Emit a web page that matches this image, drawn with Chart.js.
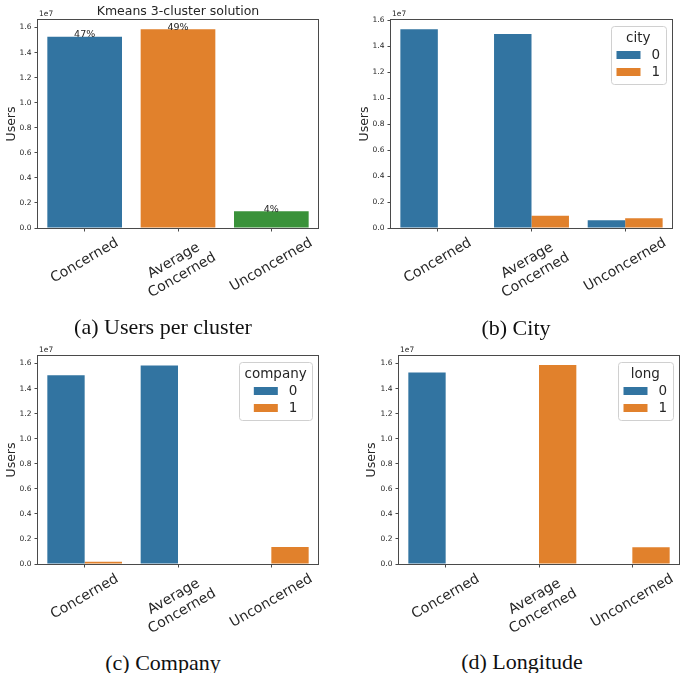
<!DOCTYPE html>
<html>
<head>
<meta charset="utf-8">
<script src="https://cdn.jsdelivr.net/npm/chart.js@4.4.0/dist/chart.umd.min.js"></script>
<style>
  body { margin: 0; background: #fff; }
  #wrap { position: relative; width: 685px; height: 673px; overflow: hidden; }
  #wrap canvas { position: absolute; }
  .cap { position: absolute; font-family: 'Liberation Serif', serif; font-size: 22px; color: #111;
         transform: translate(-50%, -50%); white-space: nowrap; }
</style>
</head>
<body>
<div id="wrap">
  <canvas id="pa" width="340" height="300" style="left:0;top:0"></canvas>
  <canvas id="pb" width="345" height="300" style="left:340px;top:0"></canvas>
  <canvas id="pc" width="340" height="300" style="left:0;top:335px"></canvas>
  <canvas id="pd" width="345" height="300" style="left:340px;top:335px"></canvas>
  <div class="cap" style="left:163px;top:327px">(a) Users per cluster</div>
  <div class="cap" style="left:516px;top:328px">(b) City</div>
  <div class="cap" style="left:163px;top:663px">(c) Company</div>
  <div class="cap" style="left:522px;top:662px">(d) Longitude</div>
</div>
<script>
// data (users, in units of 1)
const clusters = [['Concerned'], ['Average', 'Concerned'], ['Unconcerned']];
const usersPerCluster = [15270000, 15860000, 1330000];
const cityNo = [15280000, 14920000, 600000];
const cityYes = [0, 950000, 750000];
const companyNo = [15070000, 15850000, 0];
const companyYes = [180000, 0, 1360000];
const longNo = [15280000, 0, 0];
const longYes = [0, 15890000, 1330000];
const hueLabels = ['0', '1'];
const yTicks = [0, 2e6, 4e6, 6e6, 8e6, 10e6, 12e6, 14e6, 16e6];

const BLUE = '#3274a1', ORANGE = '#e1812c', GREEN = '#3a923a';
const TXT = '#262626', AXIS = '#4a4a4a';

Chart.defaults.font.family = "'DejaVu Sans', sans-serif";
Chart.defaults.color = TXT;
Chart.defaults.animation = false;

// draws the matplotlib-ish extras: spines, rotated x labels, ylabel, offset text, title, legend
const decor = {
  id: 'decor',
  afterDraw(chart, args, o) {
    const ctx = chart.ctx, a = chart.chartArea;
    const xs = chart.scales.x;
    ctx.save();

    ctx.strokeStyle = AXIS;
    ctx.lineWidth = 1;
    ctx.strokeRect(a.left - 0.5, a.top - 0.5, a.right - a.left + 1, a.bottom - a.top + 1);

    // x tick labels, rotated 30deg and centred under the tick
    const fs = 14, lh = fs * 1.2, th = Math.PI / 6;
    ctx.font = fs + "px 'DejaVu Sans'";
    ctx.fillStyle = TXT;
    ctx.textAlign = 'center';
    ctx.textBaseline = 'middle';
    chart.data.labels.forEach((lab, i) => {
      const lines = [].concat(lab);
      const w = Math.max(...lines.map(l => ctx.measureText(l).width));
      const h = (lines.length - 1) * lh + fs * 1.15;
      const bh = w * Math.sin(th) + h * Math.cos(th);
      const x = xs.getPixelForTick(i);
      const y = a.bottom + 7 + bh / 2;
      ctx.save();
      ctx.translate(x, y);
      ctx.rotate(-th);
      lines.forEach((l, j) => ctx.fillText(l, 0, (j - (lines.length - 1) / 2) * lh));
      ctx.restore();
    });

    // y axis label
    ctx.save();
    ctx.font = "12.5px 'DejaVu Sans'";
    ctx.translate(o.ylabelX, (a.top + a.bottom) / 2);
    ctx.rotate(-Math.PI / 2);
    ctx.fillText('Users', 0, 0);
    ctx.restore();

    // offset text
    ctx.font = "7.5px 'DejaVu Sans'";
    ctx.textAlign = 'left';
    ctx.textBaseline = 'alphabetic';
    ctx.fillText('1e7', a.left + 1, a.top - 4);

    if (o.title) {
      ctx.font = "12.5px 'DejaVu Sans'";
      ctx.textAlign = 'center';
      ctx.fillText(o.title, (a.left + a.right) / 2, a.top - 5);
    }

    // percentage of users on top of each bar
    if (o.pct) {
      const vals = chart.data.datasets[0].data;
      const total = vals.reduce((s, v) => s + v, 0);
      ctx.font = "9.5px 'DejaVu Sans'";
      ctx.textAlign = 'center';
      ctx.textBaseline = 'alphabetic';
      chart.getDatasetMeta(0).data.forEach((bar, i) => {
        ctx.fillText(Math.round(vals[i] / total * 100) + '%', bar.x, bar.y + 0.5);
      });
    }

    if (o.legendTitle) {
      const lf = 13.5;
      ctx.font = lf + "px 'DejaVu Sans'";
      const ds = chart.data.datasets;
      const tW = ctx.measureText(o.legendTitle).width;
      const lW = Math.max(...ds.map(d => ctx.measureText(d.label).width));
      const eW = 24 + 11 + lW;
      const bw = Math.max(tW, eW) + 11, bh = 58;
      const bx = Math.round(a.right - 6 - bw), by = a.top + 6;
      ctx.beginPath();
      ctx.roundRect(bx + 0.5, by + 0.5, Math.round(bw), bh, 3);
      ctx.fillStyle = 'rgba(255,255,255,0.8)';
      ctx.fill();
      ctx.strokeStyle = '#d0d0d0';
      ctx.stroke();
      ctx.fillStyle = TXT;
      ctx.textAlign = 'center';
      ctx.textBaseline = 'middle';
      ctx.fillText(o.legendTitle, bx + bw / 2, by + 12);
      const ex = bx + (bw - eW) / 2;
      ds.forEach((d, i) => {
        const cy = by + 29 + i * 17;
        ctx.fillStyle = d.backgroundColor;
        ctx.fillRect(ex, cy - 4, 24, 8);
        ctx.fillStyle = TXT;
        ctx.textAlign = 'left';
        ctx.fillText(d.label, ex + 35, cy + 0.5);
      });
    }
    ctx.restore();
  }
};

function makePanel(id, datasets, box, extra) {
  const cv = document.getElementById(id);
  return new Chart(cv, {
    type: 'bar',
    data: { labels: clusters, datasets: datasets },
    options: {
      responsive: false,
      devicePixelRatio: 1,
      layout: { padding: { left: 0, top: box.top, right: cv.width - box.right, bottom: 0 } },
      datasets: { bar: { barPercentage: 1, categoryPercentage: 0.8, borderWidth: 0 } },
      scales: {
        x: {
          ticks: { display: false },
          grid: { offset: false, drawOnChartArea: false, drawTicks: true, tickLength: 3.5, color: AXIS },
          border: { display: false },
          afterFit: s => { s.height = cv.height - box.bottom; }
        },
        y: {
          min: 0,
          max: box.max,
          ticks: {
            padding: 3,
            font: { size: 7.5 },
            color: TXT,
            callback: v => (v / 1e7).toFixed(1)
          },
          afterBuildTicks: s => { s.ticks = yTicks.map(v => ({ value: v })); },
          grid: { drawOnChartArea: false, drawTicks: true, tickLength: 3.5, color: AXIS },
          border: { display: false },
          afterFit: s => { s.width = box.left; }
        }
      },
      plugins: {
        legend: { display: false },
        tooltip: { enabled: false },
        decor: extra
      }
    },
    plugins: [decor]
  });
}

makePanel('pa',
  [{ label: 'Users', data: usersPerCluster, backgroundColor: [BLUE, ORANGE, GREEN] }],
  { left: 38, right: 318, top: 20, bottom: 228, max: 16600000 },
  { ylabelX: 12, title: 'Kmeans 3-cluster solution', pct: true });

makePanel('pb',
  [{ label: hueLabels[0], data: cityNo, backgroundColor: BLUE },
   { label: hueLabels[1], data: cityYes, backgroundColor: ORANGE }],
  { left: 51, right: 332, top: 20, bottom: 228, max: 16000000 },
  { ylabelX: 25, legendTitle: 'city' });

makePanel('pc',
  [{ label: hueLabels[0], data: companyNo, backgroundColor: BLUE },
   { label: hueLabels[1], data: companyYes, backgroundColor: ORANGE }],
  { left: 38, right: 318, top: 21, bottom: 229, max: 16600000 },
  { ylabelX: 12, legendTitle: 'company' });

makePanel('pd',
  [{ label: hueLabels[0], data: longNo, backgroundColor: BLUE },
   { label: hueLabels[1], data: longYes, backgroundColor: ORANGE }],
  { left: 59, right: 339, top: 21, bottom: 229, max: 16600000 },
  { ylabelX: 31.5, legendTitle: 'long' });
</script>
</body>
</html>
